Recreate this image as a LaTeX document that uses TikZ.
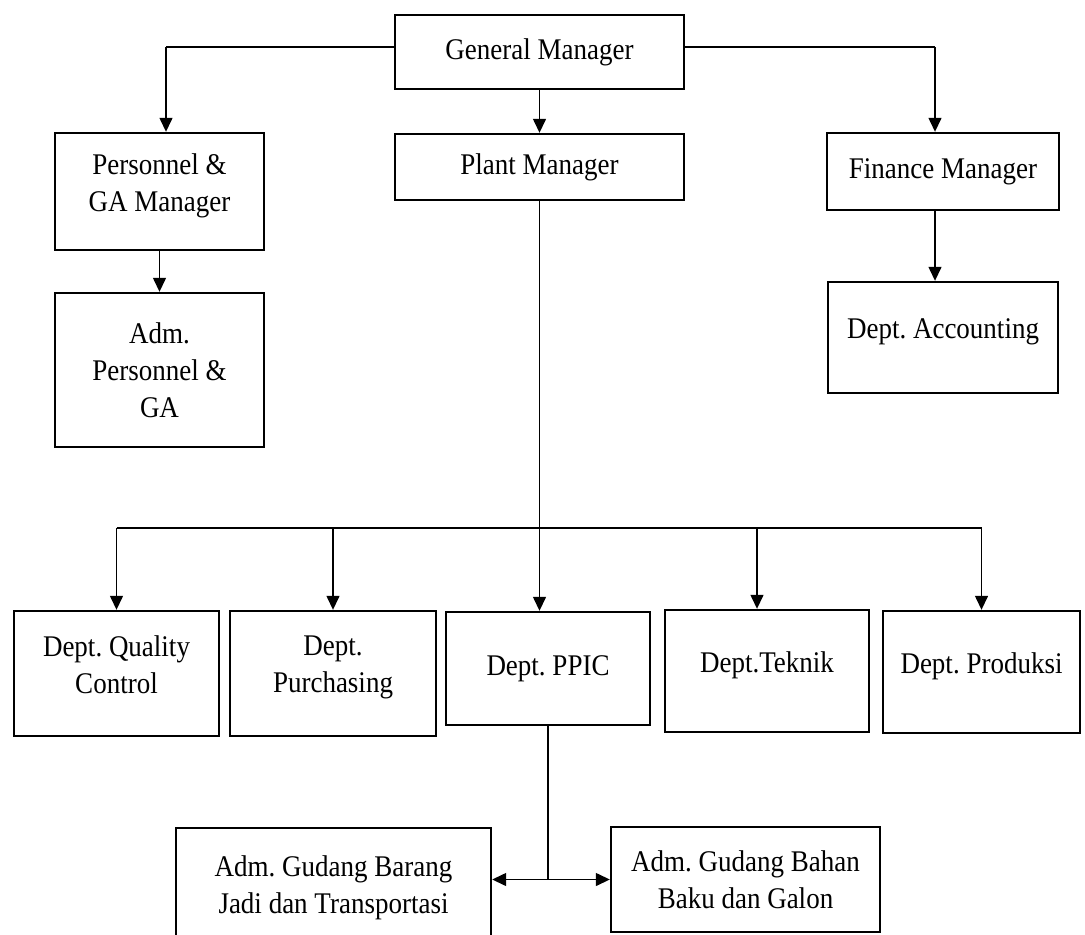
\documentclass[tikz,border=0pt]{standalone}
\usepackage{fontspec}
\setmainfont[FakeStretch=0.9]{Liberation Serif}
\usetikzlibrary{arrows.meta}
\begin{document}
\frenchspacing
\begin{tikzpicture}[x=0.5pt,y=-0.5pt,
  every node/.style={font=\fontsize{15}{18.5}\selectfont,align=center},
  box/.style 2 args={draw,line width=1.2pt,inner sep=0pt,minimum width=#1*0.5pt,minimum height=#2*0.5pt},
  high/.style={text depth=9pt},
  link/.style={line width=0.7pt},
  arr/.style={link,-{Triangle[length=7pt,width=6.5pt]}}]
\useasboundingbox (0,0) rectangle (1085,935);
\node[box={289}{74}] (gm) at (539.5,52) {General Manager};
\node[box={289}{66}] (plant) at (539.5,167) {Plant Manager};
\node[box={209}{117},high] (pga) at (159.5,191.5) {Personnel \&\\GA Manager};
\node[box={209}{154}] (adm) at (159.5,370) {Adm.\\Personnel \&\\GA};
\node[box={232}{77}] (fin) at (943,171.5) {Finance Manager};
\node[box={230}{111},high] (acc) at (943,337.5) {Dept. Accounting};
\node[box={205}{125},high] (qc) at (116.5,673.5) {Dept. Quality\\Control};
\node[box={206}{125},high] (pur) at (333,673.5) {Dept.\\Purchasing};
\node[box={204}{113}] (ppic) at (548,668.5) {Dept. PPIC};
\node[box={204}{122},high] (tek) at (767,671) {Dept.Teknik};
\node[box={197}{122},high] (pro) at (981.5,672) {Dept. Produksi};
\node[box={315}{120}] (gbj) at (333.5,888) {Adm. Gudang Barang\\Jadi dan Transportasi};
\node[box={269}{105}] (gbb) at (745.5,879.5) {Adm. Gudang Bahan\\Baku dan Galon};
\coordinate (lturn) at (166,47);
\coordinate (rturn) at (935,47);
\coordinate (bus) at (540,528);
\coordinate (tekin) at ([xshift=-5pt]tek.north);
\coordinate (fork) at (ppic.south |- gbb.west);
\draw[link] (gm.west |- lturn) -- (lturn);
\draw[arr] (lturn) -- (lturn |- pga.north);
\draw[link] (gm.east |- rturn) -- (rturn);
\draw[arr] (rturn) -- (rturn |- fin.north);
\draw[arr] (gm) -- (plant);
\draw[arr] (pga) -- (adm);
\draw[arr] (rturn |- fin.south) -- (rturn |- acc.north);
\draw[arr] (plant.south) -- (plant.south |- ppic.north);
\draw[link] (bus -| qc.north) -- (bus -| pro.north);
\foreach \d in {qc,pur,pro}
  \draw[arr] (bus -| \d.north) -- (\d.north);
\draw[arr] (bus -| tekin) -- (tekin);
\draw[link] (ppic.south) -- (fork);
\draw[arr] (fork) -- (fork -| gbj.east);
\draw[arr] (fork) -- (gbb.west);
\end{tikzpicture}
\end{document}
